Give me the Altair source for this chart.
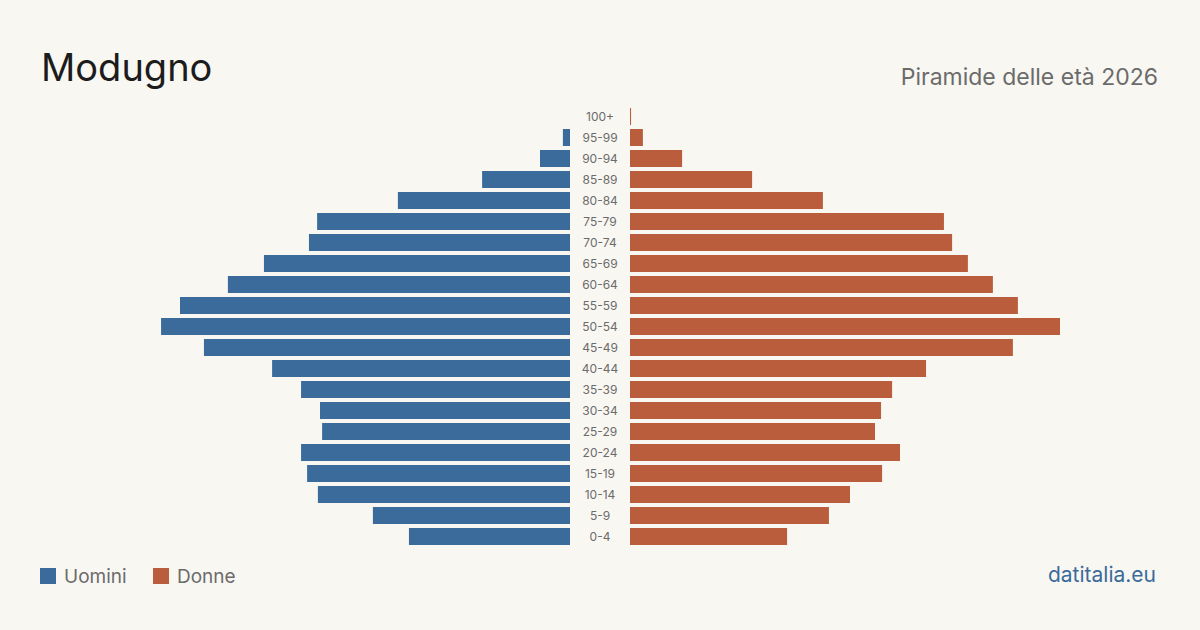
import altair as alt
import pandas as pd

# Age groups (bottom to top)
age_groups = ["0-4", "5-9", "10-14", "15-19", "20-24", "25-29", "30-34", "35-39",
              "40-44", "45-49", "50-54", "55-59", "60-64", "65-69", "70-74", "75-79",
              "80-84", "85-89", "90-94", "95-99", "100+"]
# Estimated residents per age group
men = [612, 749, 958, 999, 1022, 942, 950, 1022, 1132, 1391, 1554, 1482, 1300,
       1163, 992, 961, 654, 334, 114, 27, 0]
women = [597, 756, 836, 958, 1026, 931, 954, 996, 1125, 1455, 1634, 1474, 1379,
         1284, 1224, 1193, 733, 464, 198, 49, 4]

title_text = "Modugno"
subtitle_text = "Piramide delle età 2026"
legend_labels = ["Uomini", "Donne"]
source_text = "datitalia.eu"

BLUE = "#3b6b9b"
ORANGE = "#b95d3d"
BG = "#f9f7f2"
FONT = "Inter"

df = pd.DataFrame({"age": age_groups, "men": men, "women": women})
order_top_down = list(reversed(age_groups))

y_enc = alt.Y("age:N", sort=order_top_down, axis=None,
              scale=alt.Scale(domain=order_top_down, range=[106, 547],
                              paddingInner=0.19, paddingOuter=0.095))

MAXV = 2166
base = alt.Chart(df)

men_bars = base.transform_filter("datum.men > 0").mark_bar(color=BLUE, cornerRadius=0).encode(
    x=alt.X("men:Q", axis=None, scale=alt.Scale(domain=[0, MAXV], range=[570, 0])),
    y=y_enc,
)
women_bars = base.transform_filter("datum.women > 0").mark_bar(color=ORANGE, cornerRadius=0).encode(
    x=alt.X("women:Q", axis=None, scale=alt.Scale(domain=[0, MAXV], range=[630, 1200])),
    y=y_enc,
)
labels = base.mark_text(font=FONT, fontSize=12, color="#6b6b6b", align="center",
                        baseline="middle").encode(
    x=alt.value(600), y=y_enc, text="age:N")

one = alt.Data(values=[{}])

title = alt.Chart(one).mark_text(text=title_text, font=FONT, fontSize=38, color="#1c1c1c",
                                 align="left", baseline="alphabetic").encode(
    x=alt.value(41), y=alt.value(81))
subtitle = alt.Chart(one).mark_text(text=subtitle_text, font=FONT, fontSize=23, color="#6b6b6b",
                                    align="right", baseline="alphabetic").encode(
    x=alt.value(1158), y=alt.value(85))

leg1_sq = alt.Chart(one).mark_rect(color=BLUE).encode(
    x=alt.value(40), x2=alt.value(56), y=alt.value(568), y2=alt.value(584))
leg1_tx = alt.Chart(one).mark_text(text=legend_labels[0], font=FONT, fontSize=19, color="#6b6b6b",
                                   align="left", baseline="middle").encode(
    x=alt.value(64), y=alt.value(577))
leg2_sq = alt.Chart(one).mark_rect(color=ORANGE).encode(
    x=alt.value(153), x2=alt.value(169), y=alt.value(568), y2=alt.value(584))
leg2_tx = alt.Chart(one).mark_text(text=legend_labels[1], font=FONT, fontSize=19, color="#6b6b6b",
                                   align="left", baseline="middle").encode(
    x=alt.value(177), y=alt.value(577))
source = alt.Chart(one).mark_text(text=source_text, font=FONT, fontSize=21, color=BLUE,
                                  align="right", baseline="middle").encode(
    x=alt.value(1156), y=alt.value(576))

chart = alt.layer(
    men_bars, women_bars, labels, title, subtitle,
    leg1_sq, leg1_tx, leg2_sq, leg2_tx, source
).resolve_scale(x="independent").properties(
    width=1200, height=630,
    autosize=alt.AutoSizeParams(type="none"),
    padding=0,
    background=BG,
).configure_view(stroke=None)

chart.save("out.html", embed_options={"renderer": "svg", "actions": False})
